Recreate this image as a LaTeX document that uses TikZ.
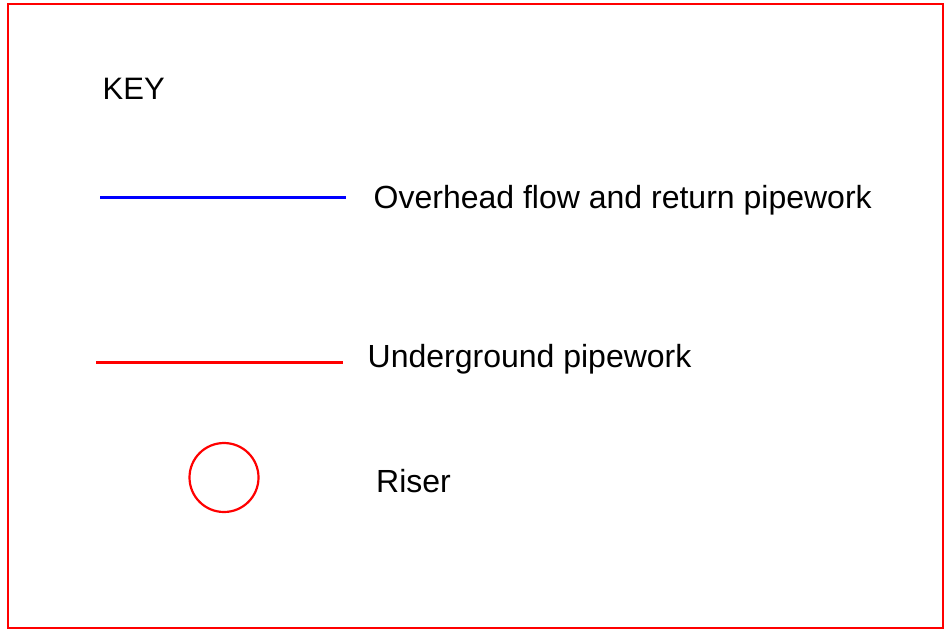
\documentclass[tikz,border=0pt]{standalone}
\usepackage{fontspec}
\setmainfont{Liberation Sans}

\begin{document}
\begin{tikzpicture}[x=1pt,y=-1pt,
		keytext/.style={anchor=base west,inner sep=0pt,font=\fontsize{32}{38}\selectfont}]
		\useasboundingbox (0,0) rectangle (947,630);
		\draw[red,line width=2.2pt] (8,4) rectangle (943,628);
		
		\node[keytext,font=\fontsize{31}{37}\selectfont] (key) at(102.5,99.5) {KEY};
		
		\coordinate (ovA) at(100,197.5);
		\coordinate (ovB) at(346,197.5);
		\node[keytext] (ovtext) at(373.5,208) {Overhead flow and return pipework};
		\draw[blue,line width=2.6pt] (ovA) -- (ovB);
		
		\coordinate (ugA) at(96,362.5);
		\coordinate (ugB) at(342.5,362.5);
		\node[keytext] (ugtext) at(367.5,367.5) {Underground pipework};
		\draw[red,line width=2.6pt] (ugA) -- (ugB);
		
		\node[draw=red,line width=2.2pt,circle,minimum size=69pt,inner sep=0pt] (riser) at(224,477.5) {};
		\node[keytext] (risertext) at(376,492) {Riser};
		\end{tikzpicture}
\end{document}
